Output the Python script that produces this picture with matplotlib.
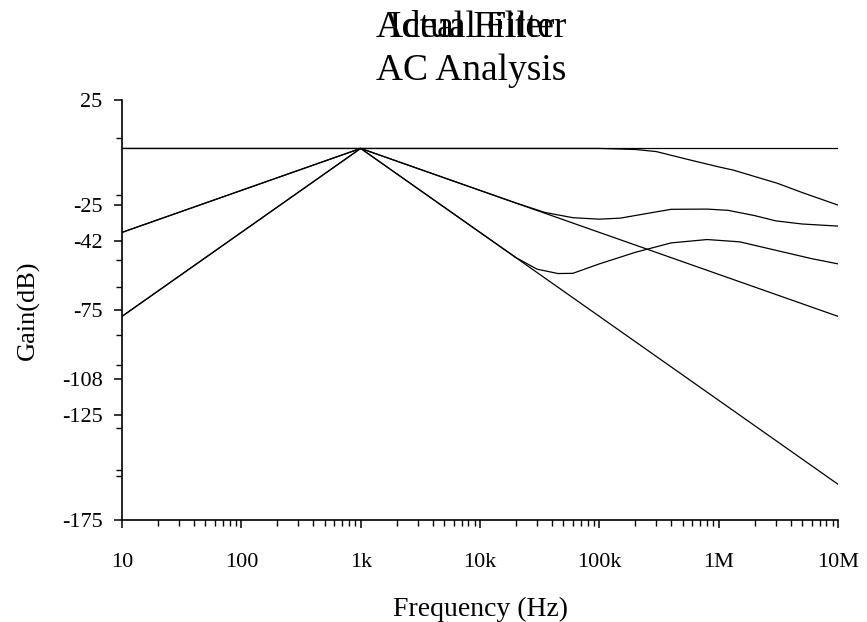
#!/usr/bin/env python3

import matplotlib
matplotlib.use('Agg')
import matplotlib.pyplot as plt
from matplotlib.ticker import FixedLocator, LogLocator, NullFormatter

# ideal filter (flat) and actual version of it
flat_f = [10, 1e7]
flat_db = [2, 2]
flat_act_f = [10, 1e5, 2e5, 3e5, 5.75e5, 1e6, 1.32e6, 3.1e6, 5e6, 1e7]
flat_act_db = [2, 2, 1.5, 0.5, -3.5, -6.8, -8.3, -14.6, -19, -25]

# 1st order band pass, ideal and actual
bp1_f = [10, 100, 1e3, 1e4, 1e7]
bp1_db = [-38, -18, 2, -18, -78]
bp1_act_f = [10, 100, 1e3, 1e4, 2e4, 3.5e4, 6e4, 1e5, 1.5e5, 2.5e5, 4e5,
             8e5, 1.2e6, 2e6, 3e6, 5e6, 1e7]
bp1_act_db = [-38, -18, 2, -18, -24, -28.5, -31, -31.7, -31.2, -29, -27,
              -26.9, -27.5, -30, -32.5, -34, -35]

# 2nd order band pass, ideal and actual
bp2_f = [10, 1e3, 1e7]
bp2_db = [-78, 2, -158]
bp2_act_f = [10, 1e3, 1e4, 2e4, 3e4, 4.5e4, 6e4, 1e5, 2e5, 4e5, 8e5,
             1.5e6, 3e6, 6e6, 1e7]
bp2_act_db = [-78, 2, -38, -50, -55.5, -57.6, -57.5, -53, -47.5, -43, -41.4,
              -42.5, -46.5, -50.5, -53]

x_ticks = [10, 100, 1e3, 1e4, 1e5, 1e6, 1e7]
x_labels = ['10', '100', '1k', '10k', '100k', '1M', '10M']
y_ticks = [25, -25, -42, -75, -108, -125, -175]
y_minor = [7, -20, -51, -64, -87, -101, -131, -151, -154]

serif = 'Liberation Serif'

fig = plt.figure(figsize=(8.67, 6.22), dpi=100)
ax = fig.add_axes([0.1407, 0.164, 0.8259, 0.675])

lw = 0.9
for f, db in [(flat_f, flat_db), (flat_act_f, flat_act_db),
              (bp1_f, bp1_db), (bp1_act_f, bp1_act_db),
              (bp2_f, bp2_db), (bp2_act_f, bp2_act_db)]:
    ax.plot(f, db, color='black', lw=lw)

ax.set_xscale('log')
ax.set_xlim(10, 1e7)
ax.set_ylim(-175, 25)

ax.set_xticks(x_ticks)
ax.set_xticklabels(x_labels)
ax.xaxis.set_minor_locator(LogLocator(base=10, subs=range(2, 10)))
ax.xaxis.set_minor_formatter(NullFormatter())
ax.set_yticks(y_ticks)
ax.set_yticklabels([str(v) for v in y_ticks])
ax.yaxis.set_minor_locator(FixedLocator(y_minor))

for s in ['top', 'right']:
    ax.spines[s].set_visible(False)
for s in ['left', 'bottom']:
    ax.spines[s].set_linewidth(1.2)
ax.tick_params(which='major', direction='out', length=6, width=1.1)
ax.tick_params(which='minor', direction='out', length=4, width=1.0)
ax.tick_params(axis='x', labelsize=16, pad=18)
ax.tick_params(axis='y', labelsize=16, pad=8)
for lab in ax.get_xticklabels() + ax.get_yticklabels():
    lab.set_fontfamily(serif)

ax.set_xlabel('Frequency (Hz)', fontsize=20, family=serif, labelpad=18)
ax.set_ylabel('Gain(dB)', fontsize=19, family=serif, labelpad=16)

# the two chart titles sit on top of each other
fig.text(0.544, 0.9405, 'Actual Filter', ha='center', va='baseline',
         fontsize=27, family=serif)
fig.text(0.544, 0.9405, 'Ideal Filter', ha='center', va='baseline',
         fontsize=27, family=serif)
fig.text(0.544, 0.871, 'AC Analysis', ha='center', va='baseline',
         fontsize=27, family=serif)

plt.savefig('out.png', dpi=100)
